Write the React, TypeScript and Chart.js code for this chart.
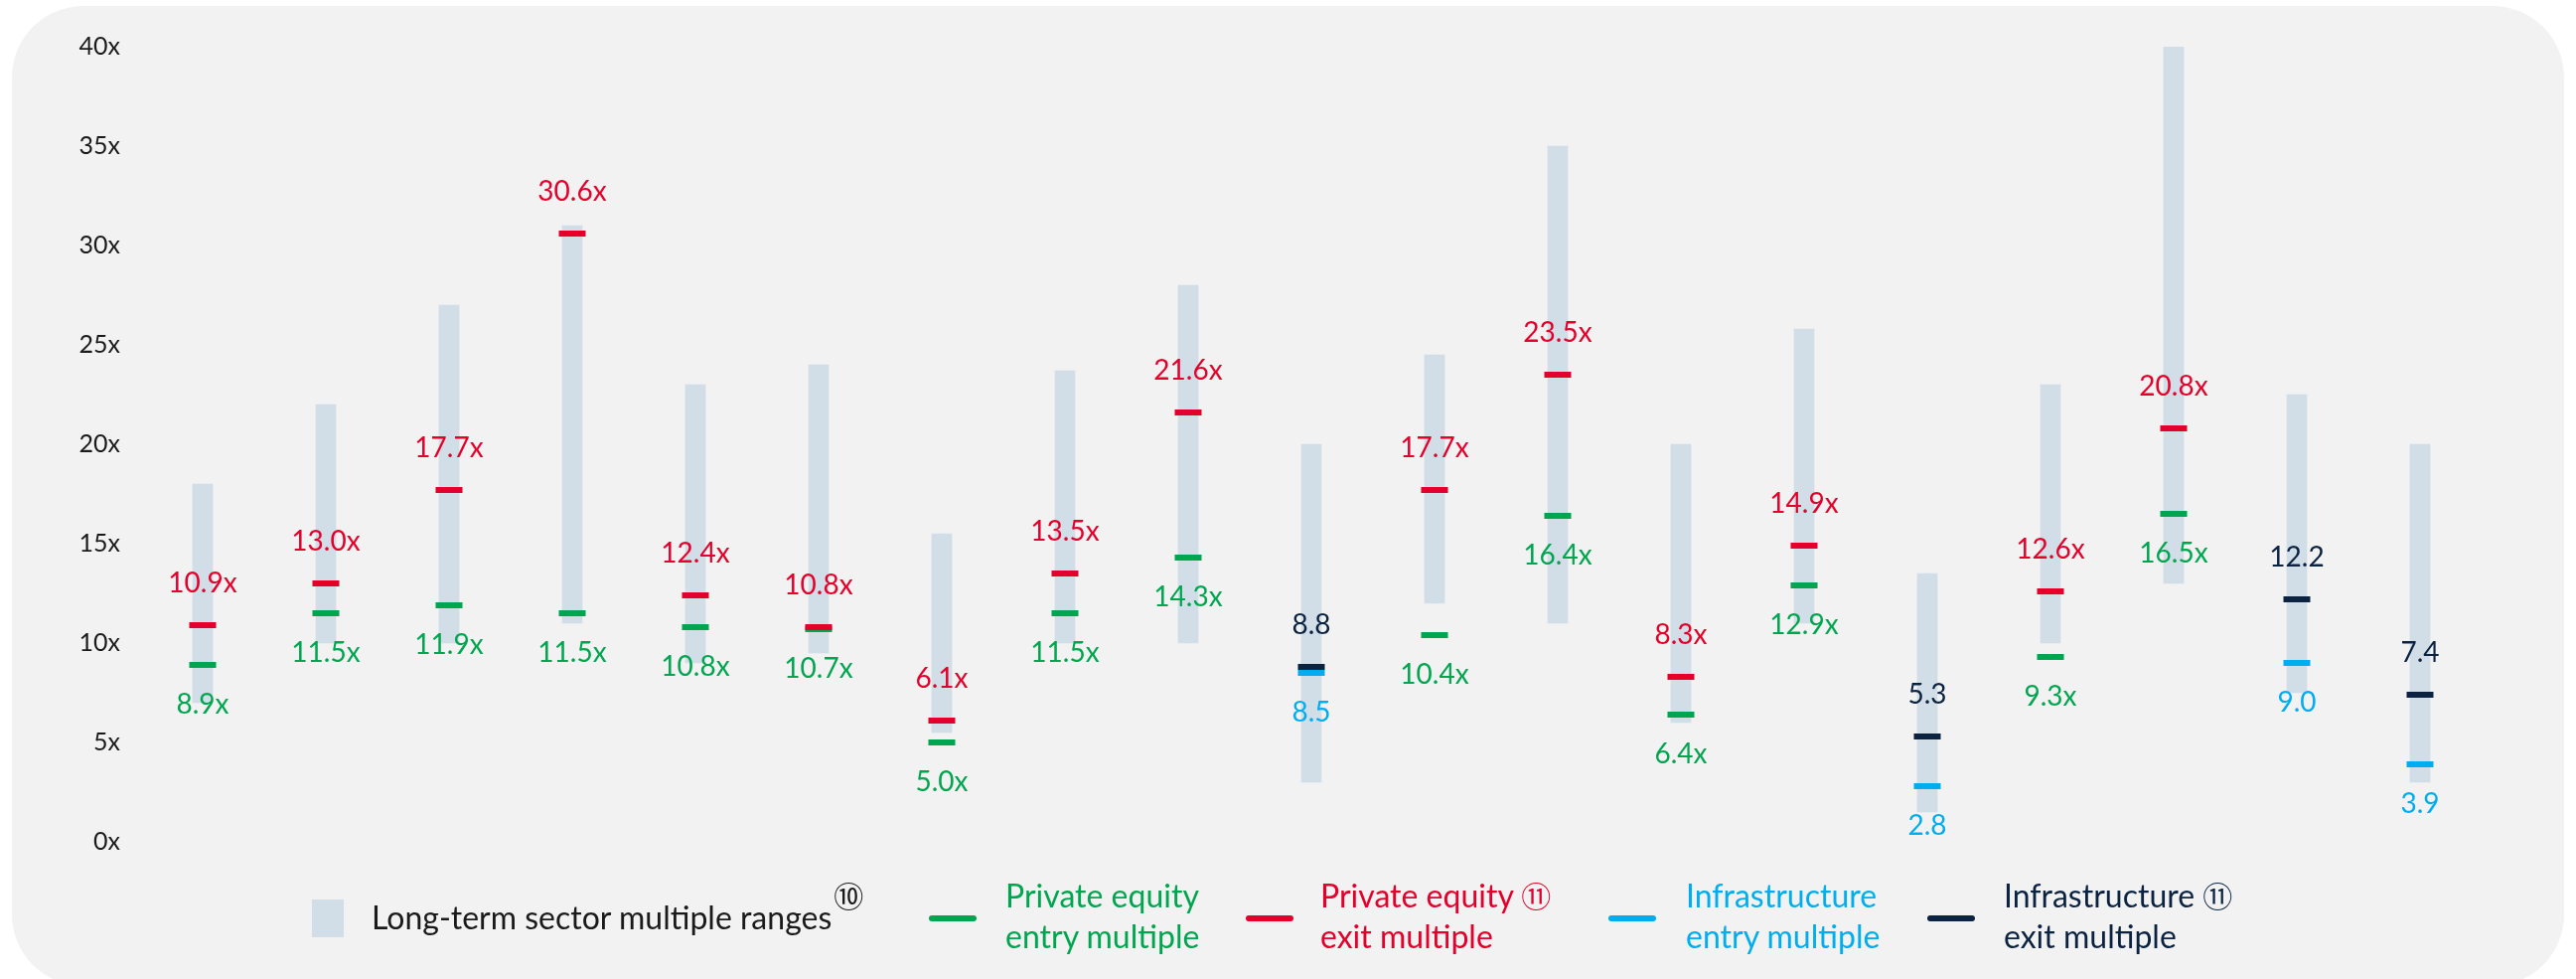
import React, { useEffect, useRef } from "react";
import { Chart, registerables } from "chart.js";

Chart.register(...registerables);

// ---- Data ----
const categories = [
  "S1", "S2", "S3", "S4", "S5", "S6", "S7", "S8", "S9", "S10",
  "S11", "S12", "S13", "S14", "S15", "S16", "S17", "S18", "S19",
];
const rangeLow = [7, 10, 10, 11, 9, 9.5, 5.5, 10, 10, 3, 12, 11, 6, 11, 1.5, 10, 13, 7.5, 3];
const rangeHigh = [18, 22, 27, 31, 23, 24, 15.5, 23.7, 28, 20, 24.5, 35, 20, 25.8, 13.5, 23, 40, 22.5, 20];
const peEntry = [8.9, 11.5, 11.9, 11.5, 10.8, 10.7, 5.0, 11.5, 14.3, null, 10.4, 16.4, 6.4, 12.9, null, 9.3, 16.5, null, null];
const peExit = [10.9, 13.0, 17.7, 30.6, 12.4, 10.8, 6.1, 13.5, 21.6, null, 17.7, 23.5, 8.3, 14.9, null, 12.6, 20.8, null, null];
const infraEntry = [null, null, null, null, null, null, null, null, null, 8.5, null, null, null, null, 2.8, null, null, 9.0, 3.9];
const infraExit = [null, null, null, null, null, null, null, null, null, 8.8, null, null, null, null, 5.3, null, null, 12.2, 7.4];
const yTicks = [0, 5, 10, 15, 20, 25, 30, 35, 40];

// ---- Style ----
const C_RANGE = "#d1dde7";
const C_GREEN = "#00a64f";
const C_RED = "#e4002b";
const C_BLUE = "#00aeef";
const C_NAVY = "#0b2341";
const C_TEXT = "#1a1a1a";
const W = 2593;
const H = 985;

const panelPlugin = {
  id: "panel",
  beforeDraw(chart: any) {
    const ctx = chart.ctx;
    ctx.save();
    ctx.fillStyle = "#f2f2f2";
    ctx.beginPath();
    (ctx as any).roundRect(12, 6, 2569, 986, 72);
    ctx.fill();
    ctx.restore();
  },
};

const labelPlugin = {
  id: "valueLabels",
  afterDatasetsDraw(chart: any) {
    const ctx = chart.ctx;
    ctx.save();
    ctx.font = "28px Lato";
    ctx.textAlign = "center";
    ctx.textBaseline = "middle";
    chart.data.datasets.forEach((ds: any, i: number) => {
      if (!ds.labelPos) return;
      const meta = chart.getDatasetMeta(i);
      ds.data.forEach((v: any, j: number) => {
        if (v === null || v === undefined) return;
        const el = meta.data[j];
        if (!el) return;
        const y = ds.labelPos === "above" ? el.y - 42 : el.y + 40;
        ctx.fillStyle = ds.borderColor;
        ctx.fillText(v.toFixed(1) + ds.suffix, el.x, y);
      });
    });
    ctx.restore();
  },
};

function markerDataset(label: string, data: any[], color: string, pos: string, suffix: string, order: number) {
  return {
    type: "line" as const,
    label,
    data,
    showLine: false,
    borderColor: color,
    backgroundColor: color,
    pointStyle: "line",
    pointRadius: 13.5,
    pointHoverRadius: 13.5,
    pointBorderWidth: 6,
    pointHoverBorderWidth: 6,
    pointBorderColor: color,
    order,
    labelPos: pos,
    suffix,
  };
}

function ChartCanvas() {
  const ref = useRef<HTMLCanvasElement | null>(null);
  useEffect(() => {
    if (!ref.current) return;
    const chart = new Chart(ref.current, {
      type: "bar",
      data: {
        labels: categories,
        datasets: [
          {
            type: "bar",
            label: "Long-term sector multiple ranges",
            data: rangeLow.map((l, i) => [l, rangeHigh[i]]),
            backgroundColor: C_RANGE,
            borderWidth: 0,
            barThickness: 20,
            order: 10,
          } as any,
          markerDataset("Private equity entry multiple", peEntry, C_GREEN, "below", "x", 4),
          markerDataset("Private equity exit multiple", peExit, C_RED, "above", "x", 3),
          markerDataset("Infrastructure entry multiple", infraEntry, C_BLUE, "below", "", 2),
          markerDataset("Infrastructure exit multiple", infraExit, C_NAVY, "above", "", 1),
        ] as any,
      },
      options: {
        responsive: false,
        animation: false,
        devicePixelRatio: 1,
        layout: { padding: { top: 47, bottom: 138, right: 95, left: 0 } },
        plugins: {
          legend: { display: false },
          tooltip: { enabled: false },
        },
        scales: {
          x: { display: false, offset: true },
          y: {
            min: 0,
            max: 40,
            afterFit: (s: any) => {
              s.width = 142;
            },
            afterBuildTicks: (s: any) => {
              s.ticks = yTicks.map((v) => ({ value: v }));
            },
            grid: { display: false, drawTicks: false },
            border: { display: false },
            ticks: {
              padding: 21,
              color: C_TEXT,
              font: { family: "Lato", size: 25 },
              callback: (v: any) => v + "x",
            },
          },
        },
      } as any,
      plugins: [panelPlugin, labelPlugin],
    });
    return () => chart.destroy();
  }, []);
  return <canvas ref={ref} width={W} height={H} style={{ position: "absolute", left: 0, top: 0 }} />;
}

const legendFont: React.CSSProperties = {
  position: "absolute",
  fontFamily: "Lato, 'DejaVu Sans', sans-serif",
  fontSize: 32,
  lineHeight: "41px",
  whiteSpace: "nowrap",
};
const circ: React.CSSProperties = {
  fontFamily: "'Noto Sans CJK JP', 'DejaVu Sans', sans-serif",
  fontSize: 30,
  lineHeight: "20px",
};

function Dash({ x, color }: { x: number; color: string }) {
  return (
    <div
      style={{
        position: "absolute",
        left: x,
        top: 921,
        width: 48,
        height: 6,
        borderRadius: 3,
        background: color,
      }}
    />
  );
}

export default function App() {
  return (
    <div style={{ position: "absolute", left: 0, top: 0, width: W, height: H, overflow: "hidden" }}>
      <ChartCanvas />
      <div style={{ position: "absolute", left: 314, top: 905, width: 32, height: 38, background: C_RANGE }} />
      <div style={{ ...legendFont, left: 374, top: 902, color: C_TEXT }}>
        Long-term sector multiple ranges
        <span style={{ ...circ, position: "relative", top: -22, marginLeft: 2 }}>⑩</span>
      </div>
      <Dash x={935} color={C_GREEN} />
      <div style={{ ...legendFont, left: 1012, top: 880, color: C_GREEN }}>
        Private equity
        <br />
        entry multiple
      </div>
      <Dash x={1254} color={C_RED} />
      <div style={{ ...legendFont, left: 1329, top: 880, color: C_RED }}>
        Private equity <span style={{ ...circ, position: "relative", top: 0 }}>⑪</span>
        <br />
        exit multiple
      </div>
      <Dash x={1619} color={C_BLUE} />
      <div style={{ ...legendFont, left: 1697, top: 880, color: C_BLUE }}>
        Infrastructure
        <br />
        entry multiple
      </div>
      <Dash x={1940} color={C_NAVY} />
      <div style={{ ...legendFont, left: 2017, top: 880, color: C_NAVY }}>
        Infrastructure <span style={{ ...circ, position: "relative", top: 0 }}>⑪</span>
        <br />
        exit multiple
      </div>
    </div>
  );
}
